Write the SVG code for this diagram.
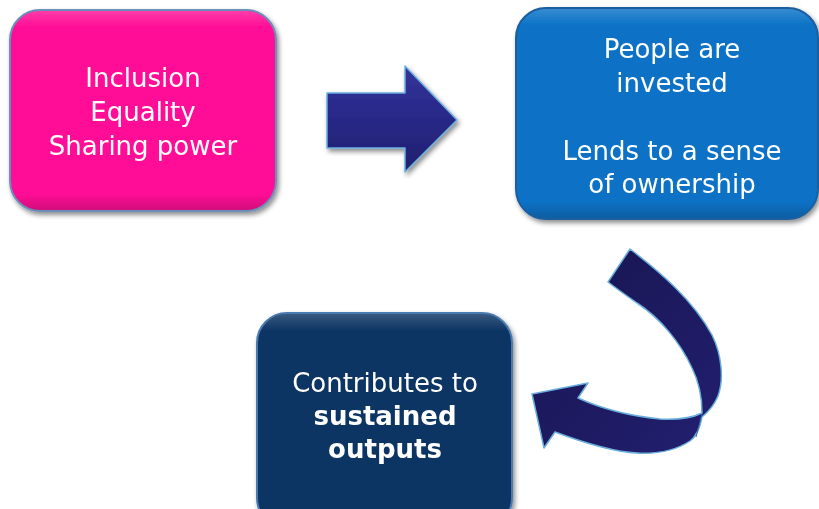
<svg xmlns="http://www.w3.org/2000/svg" width="819" height="509" viewBox="0 0 819 509">
<defs>
<filter id="sh" x="-10%" y="-10%" width="125%" height="125%">
<feGaussianBlur in="SourceAlpha" stdDeviation="2.5"/>
<feOffset dx="2" dy="3" result="b"/>
<feComponentTransfer><feFuncA type="linear" slope="0.45"/></feComponentTransfer>
<feMerge><feMergeNode/><feMergeNode in="SourceGraphic"/></feMerge>
</filter>
<linearGradient id="gl" x1="0" y1="0" x2="0" y2="1">
<stop offset="0" stop-color="#fff" stop-opacity="0.18"/>
<stop offset="0.08" stop-color="#fff" stop-opacity="0"/>
<stop offset="0.92" stop-color="#000" stop-opacity="0"/>
<stop offset="1" stop-color="#000" stop-opacity="0.18"/>
</linearGradient>
<linearGradient id="arr" x1="0" y1="0" x2="0" y2="1">
<stop offset="0" stop-color="#34349a"/>
<stop offset="0.5" stop-color="#282888"/>
<stop offset="1" stop-color="#20206e"/>
</linearGradient>
<linearGradient id="curv" x1="0" y1="0" x2="1" y2="1">
<stop offset="0" stop-color="#181550"/>
<stop offset="1" stop-color="#221f70"/>
</linearGradient>
</defs>
<style>
.t{font-family:"DejaVu Sans","Liberation Sans",sans-serif;font-size:26px;fill:#fff;text-anchor:middle}
.b{font-weight:bold}
</style>
<rect width="819" height="509" fill="#fff"/>
<g id="node-inclusion" filter="url(#sh)">
<rect x="10" y="10" width="266" height="201" rx="30" fill="#ff1096" stroke="#6b8fb8" stroke-width="2"/>
<rect x="11" y="11" width="264" height="199" rx="29" fill="url(#gl)"/>
<text class="t" x="143" y="87">Inclusion</text>
<text class="t" x="143" y="121">Equality</text>
<text class="t" x="143" y="155">Sharing power</text>
</g>
<g id="node-invested" filter="url(#sh)">
<rect x="516" y="8" width="302" height="211" rx="30" fill="#0a72c6" stroke="#1b5f9f" stroke-width="2"/>
<rect x="517" y="9" width="300" height="209" rx="29" fill="url(#gl)"/>
<text class="t" x="672" y="58">People are</text>
<text class="t" x="672" y="92">invested</text>
<text class="t" x="672" y="160">Lends to a sense</text>
<text class="t" x="672" y="193">of ownership</text>
</g>
<g id="node-outputs" filter="url(#sh)">
<rect x="257" y="313" width="255" height="215" rx="30" fill="#0c3463" stroke="#4a7ab0" stroke-width="2"/>
<rect x="258" y="314" width="253" height="213" rx="29" fill="url(#gl)"/>
<text class="t" x="385" y="392">Contributes to</text>
<text class="t b" x="385" y="425">sustained</text>
<text class="t b" x="385" y="458">outputs</text>
</g>
<g id="connectors" stroke="#6aaee0" stroke-width="1.5" stroke-linejoin="round">
<path id="arrow-right" d="M327,93 L405,93 L405,66 L457,120 L405,172 L405,148 L327,148 Z" fill="url(#arr)" filter="url(#sh)"/>
<path id="arrow-curve" d="M630,249 C660,272 693,300 712,335 C722,355 724,380 718,396 C714,406 708,412 702,417 C700,428 697,436 690,441 C675,451 655,454 637,453 C615,452 590,445 555,432 L544,448 L532,394 L588,383 L578,398 C600,408 630,416 660,419 C680,420 692,418 702,413 C702,395 698,380 692,368 C680,342 660,318 637,303 C627,296 617,289 608,282 Z" fill="url(#curv)"/>
<path d="M702,414 L696,437" fill="none" stroke="#3b5fa8" stroke-width="1"/>
</g>
</svg>
